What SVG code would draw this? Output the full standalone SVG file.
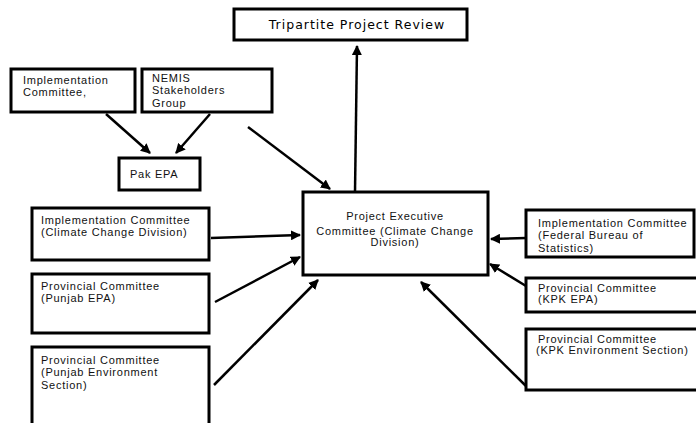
<svg xmlns="http://www.w3.org/2000/svg" width="696" height="423" viewBox="0 0 696 423">
<defs>
<style>
.box{fill:#fff;stroke:#000;stroke-width:3}
.t{font-family:"Liberation Sans",Arial,sans-serif;font-size:11px;fill:#111;letter-spacing:0.75px}
.tt{font-family:"DejaVu Sans",Verdana,sans-serif;font-size:12.5px;fill:#000;letter-spacing:1px}
.c{stroke:#000;stroke-width:2.5;fill:none;marker-end:url(#ah)}
</style>
<marker id="ah" viewBox="0 0 10 10" refX="9" refY="5" markerWidth="4" markerHeight="4" orient="auto" markerUnits="strokeWidth">
<path d="M0,0 L10,5 L0,10 z" fill="#000"/>
</marker>
</defs>
<rect width="696" height="423" fill="#fff"/>
<g id="connectors">
<line class="c" x1="355" y1="192" x2="357" y2="46"/>
<line class="c" x1="106" y1="114" x2="150" y2="153"/>
<line class="c" x1="210" y1="114" x2="176" y2="153"/>
<line class="c" x1="248" y1="127" x2="330" y2="189"/>
<line class="c" x1="211" y1="238" x2="300" y2="235"/>
<line class="c" x1="215" y1="302" x2="300" y2="257"/>
<line class="c" x1="214" y1="385" x2="318" y2="280"/>
<line class="c" x1="526" y1="238" x2="491" y2="239"/>
<line class="c" x1="526" y1="286" x2="490" y2="264"/>
<line class="c" x1="527" y1="387" x2="421" y2="282"/>
</g>
<g id="tripartite">
<rect class="box" x="234" y="9" width="233" height="31"/>
<text class="tt" x="357" y="29" text-anchor="middle">Tripartite Project Review</text>
</g>
<g id="impl-committee">
<rect class="box" x="11" y="69" width="124" height="43"/>
<text class="t" x="23" y="84">Implementation</text>
<text class="t" x="23" y="96">Committee,</text>
</g>
<g id="nemis">
<rect class="box" x="142" y="69" width="130" height="43"/>
<text class="t" x="152" y="82">NEMIS</text>
<text class="t" x="152" y="94">Stakeholders</text>
<text class="t" x="152" y="107">Group</text>
</g>
<g id="pak-epa">
<rect class="box" x="119" y="158" width="81" height="32"/>
<text class="t" x="130" y="178">Pak EPA</text>
</g>
<g id="pec">
<rect class="box" x="303" y="192" width="185" height="83"/>
<text class="t" x="395" y="220" text-anchor="middle">Project Executive</text>
<text class="t" x="395" y="235" text-anchor="middle">Committee (Climate Change</text>
<text class="t" x="395" y="246" text-anchor="middle">Division)</text>
</g>
<g id="impl-ccd">
<rect class="box" x="32" y="208" width="177" height="52"/>
<text class="t" x="41" y="224">Implementation Committee</text>
<text class="t" x="41" y="236">(Climate Change Division)</text>
</g>
<g id="punjab-epa">
<rect class="box" x="32" y="274" width="177" height="59"/>
<text class="t" x="41" y="290">Provincial Committee</text>
<text class="t" x="41" y="302">(Punjab EPA)</text>
</g>
<g id="punjab-env">
<rect class="box" x="32" y="347" width="177" height="78"/>
<text class="t" x="41" y="364">Provincial Committee</text>
<text class="t" x="41" y="376">(Punjab Environment</text>
<text class="t" x="41" y="389">Section)</text>
</g>
<g id="fbs">
<rect class="box" x="526" y="210" width="168" height="47"/>
<text class="t" x="538" y="227">Implementation Committee</text>
<text class="t" x="538" y="239">(Federal Bureau  of</text>
<text class="t" x="538" y="252">Statistics)</text>
</g>
<g id="kpk-epa">
<rect class="box" x="526" y="278" width="172" height="34"/>
<text class="t" x="538" y="292">Provincial Committee</text>
<text class="t" x="538" y="303">(KPK EPA)</text>
</g>
<g id="kpk-env">
<rect class="box" x="526" y="329" width="172" height="61"/>
<text class="t" x="538" y="343">Provincial Committee</text>
<text class="t" x="536" y="354">(KPK Environment Section)</text>
</g>
</svg>
